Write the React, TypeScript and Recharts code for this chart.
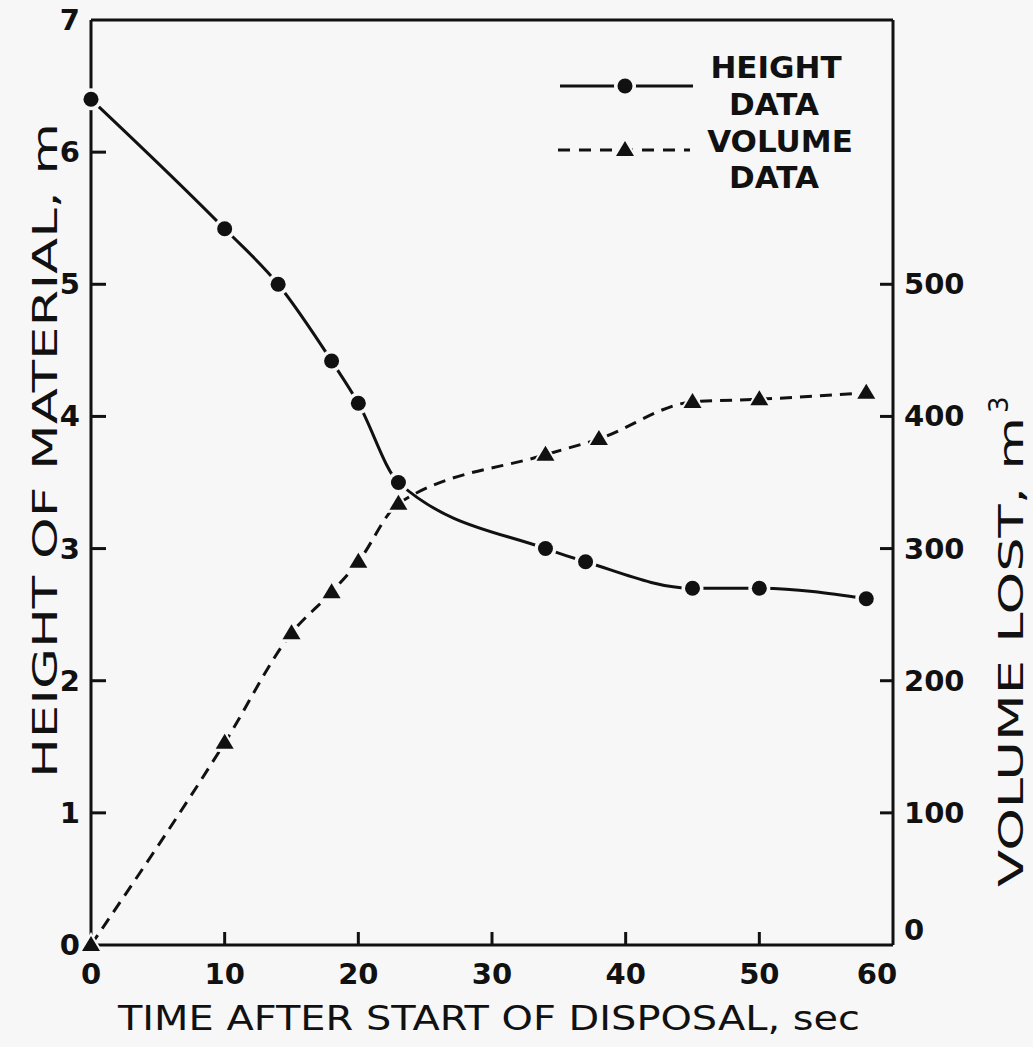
import React from 'react';
import { ComposedChart, Line, XAxis, YAxis, ReferenceLine } from 'recharts';

// values
const heightTime = [0, 10, 14, 18, 20, 23, 34, 37, 45, 50, 58];
const heightVal = [6.4, 5.42, 5.0, 4.42, 4.1, 3.5, 3.0, 2.9, 2.7, 2.7, 2.62];
const volumeTime = [0, 10, 15, 18, 20, 23, 34, 38, 45, 50, 58];
const volumeVal = [0, 153, 236, 267, 290, 334, 371, 383, 411, 413, 418];

const timeTicks = [0, 10, 20, 30, 40, 50, 60];
const heightTicks = [0, 1, 2, 3, 4, 5, 6, 7];
const volumeTicks = [0, 100, 200, 300, 400, 500];

const heightData = heightTime.map((t, i) => ({ t, h: heightVal[i] }));
const volumeData = volumeTime.map((t, i) => ({ t, v: volumeVal[i] }));

const INK = '#111';
const PAPER = '#f7f7f7';
const tickFont = { fontFamily: 'DejaVu Sans', fontWeight: 700, fontSize: 29, fill: INK };
const titleFont = { fontFamily: 'DejaVu Sans', fontSize: 34, fill: INK };

const CircleDot = (props: any) => {
    const { cx, cy, index } = props;
    if (cx == null || cy == null) return null;
    return (
        <g key={`c-${index}`}>
            <circle cx={cx} cy={cy} r={11} fill={PAPER} />
            <circle cx={cx} cy={cy} r={7.5} fill={INK} />
        </g>
    );
};

const TriDot = (props: any) => {
    const { cx, cy, index } = props;
    if (cx == null || cy == null) return null;
    return (
        <g key={`t-${index}`}>
            <polygon points={`${cx},${cy - 13} ${cx - 13},${cy + 9} ${cx + 13},${cy + 9}`} fill={PAPER} />
            <polygon points={`${cx},${cy - 9} ${cx - 9},${cy + 6} ${cx + 9},${cy + 6}`} fill={INK} />
        </g>
    );
};

const LeftTick = (props: any) => {
    const { x, y, payload } = props;
    const v = payload.value;
    return (
        <g>
            {v !== 0 && v !== 7 && <line x1={x} x2={x + 15} y1={y} y2={y} stroke={INK} strokeWidth={3} />}
            <text x={x - 11} y={y} textAnchor="end" dominantBaseline="central" {...tickFont}>{v}</text>
        </g>
    );
};

const RightTick = (props: any) => {
    const { x, y, payload } = props;
    const v = payload.value;
    return (
        <g>
            {v !== 0 && <line x1={x - 13} x2={x} y1={y} y2={y} stroke={INK} strokeWidth={3} />}
            <text x={x + 11} y={v === 0 ? y - 15 : y} textAnchor="start" dominantBaseline="central" {...tickFont}>{v}</text>
        </g>
    );
};

const BottomTick = (props: any) => {
    const { x, y, payload } = props;
    const v = payload.value;
    return (
        <g>
            {v !== 0 && v !== 60 && <line x1={x} x2={x} y1={y} y2={y - 13} stroke={INK} strokeWidth={3} />}
            <text x={v === 60 ? x - 16 : x} y={y + 29} textAnchor="middle" dominantBaseline="central" {...tickFont}>{v}</text>
        </g>
    );
};

export default function App() {
    return (
        <div style={{ position: 'absolute', left: 0, top: 0, width: 1033, height: 1047, background: PAPER }}>
            <ComposedChart
                width={1033}
                height={1047}
                margin={{ top: 20, right: 60, bottom: 42, left: 31 }}
            >
                <XAxis
                    dataKey="t"
                    type="number"
                    domain={[0, 60]}
                    ticks={timeTicks}
                    interval={0}
                    height={60}
                    tickSize={0}
                    tickMargin={0}
                    tickLine={false}
                    axisLine={{ stroke: INK, strokeWidth: 3 }}
                    tick={<BottomTick />}
                />
                <YAxis
                    yAxisId="left"
                    type="number"
                    domain={[0, 7]}
                    ticks={heightTicks}
                    interval={0}
                    width={60}
                    tickSize={0}
                    tickMargin={0}
                    tickLine={false}
                    axisLine={{ stroke: INK, strokeWidth: 3 }}
                    tick={<LeftTick />}
                />
                <YAxis
                    yAxisId="right"
                    orientation="right"
                    type="number"
                    domain={[0, 700]}
                    ticks={volumeTicks}
                    interval={0}
                    width={80}
                    tickSize={0}
                    tickMargin={0}
                    tickLine={false}
                    axisLine={{ stroke: INK, strokeWidth: 3 }}
                    tick={<RightTick />}
                />
                <ReferenceLine yAxisId="left" y={7} stroke={INK} strokeWidth={3} />

                <Line
                    yAxisId="right"
                    data={volumeData}
                    dataKey="v"
                    type="monotone"
                    stroke={INK}
                    strokeWidth={3}
                    strokeDasharray="12 8"
                    dot={<TriDot />}
                    activeDot={false}
                    isAnimationActive={false}
                />
                <Line
                    yAxisId="left"
                    data={heightData}
                    dataKey="h"
                    type="monotone"
                    stroke={INK}
                    strokeWidth={3}
                    dot={<CircleDot />}
                    activeDot={false}
                    isAnimationActive={false}
                />

                {/* legend, drawn by hand like the original */}
                <g>
                    <line x1={560} x2={693} y1={86} y2={86} stroke={INK} strokeWidth={3} />
                    <circle cx={625} cy={86} r={11} fill={PAPER} />
                    <circle cx={625} cy={86} r={7.5} fill={INK} />
                    <line x1={558} x2={690} y1={150} y2={150} stroke={INK} strokeWidth={3} strokeDasharray="12 9" />
                    <polygon points="625,136 612,159 638,159" fill={PAPER} />
                    <polygon points="625,141 616,156 634,156" fill={INK} />
                    <text x={776} y={78} textAnchor="middle" {...tickFont} fontSize={31}>HEIGHT</text>
                    <text x={774} y={115} textAnchor="middle" {...tickFont} fontSize={31}>DATA</text>
                    <text x={780} y={152} textAnchor="middle" {...tickFont} fontSize={31}>VOLUME</text>
                    <text x={774} y={188} textAnchor="middle" {...tickFont} fontSize={31}>DATA</text>
                </g>

                {/* axis titles */}
                <text x={118} y={1030} textLength={742} lengthAdjust="spacingAndGlyphs" {...titleFont}>
                    TIME AFTER START OF DISPOSAL, sec
                </text>
                <g transform="translate(57, 778) rotate(-90)">
                    <text x={0} y={0} textLength={655} lengthAdjust="spacingAndGlyphs" {...titleFont}>
                        HEIGHT OF MATERIAL, m
                    </text>
                </g>
                <g transform="translate(1023, 887) rotate(-90)">
                    <text x={0} y={0} textLength={470} lengthAdjust="spacingAndGlyphs" {...titleFont}>
                        VOLUME LOST, m
                    </text>
                    <text x={474} y={-15} {...titleFont} fontSize={26}>3</text>
                </g>
            </ComposedChart>
        </div>
    );
}
